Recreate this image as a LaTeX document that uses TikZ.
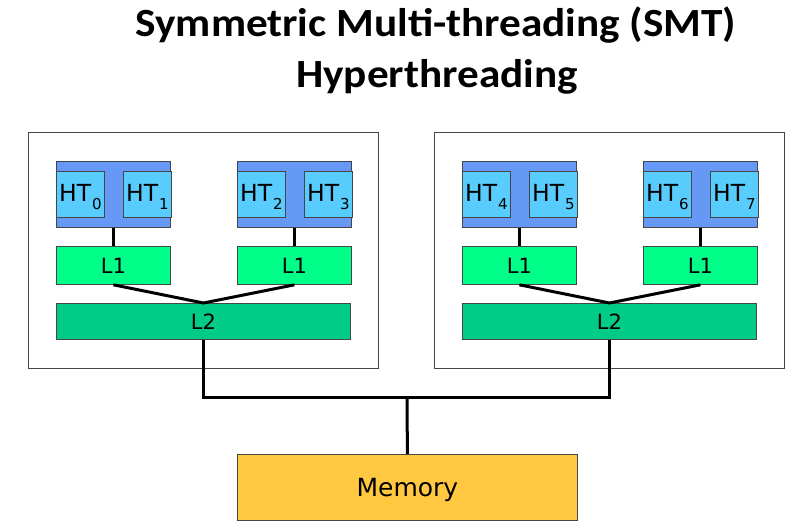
\documentclass[tikz,border=0pt]{standalone}
\usepackage{fontspec}
\setmainfont{DejaVu Sans}
\newfontfamily\titlefont[FakeStretch=1.08]{Carlito}
\newcommand\htlab[1]{HT\hspace{1pt}\raisebox{-8pt}{\fontsize{15}{15}\selectfont #1}}
\definecolor{coreblue}{RGB}{102,153,245}
\definecolor{htblue}{RGB}{88,204,252}
\definecolor{lone}{RGB}{0,255,136}
\definecolor{ltwo}{RGB}{0,204,136}
\definecolor{memcol}{RGB}{255,200,64}
\definecolor{edge}{RGB}{70,70,70}
\tikzset{
  box/.style={draw=edge, line width=0.8pt, rectangle, inner sep=0pt, anchor=north west},
  outerbox/.style={box, fill=white, draw=edge},
  corebox/.style={box, fill=coreblue, minimum width=114pt, minimum height=66pt},
  htbox/.style={box, fill=htblue, minimum width=48pt, minimum height=46pt, text height=24pt, text depth=10pt, font=\fontsize{23.5}{23.5}\selectfont},
  lonebox/.style={box, fill=lone, minimum width=114pt, minimum height=38pt, font=\fontsize{21}{21}\selectfont},
  ltwobox/.style={box, fill=ltwo, minimum width=294pt, minimum height=36pt, font=\fontsize{21}{21}\selectfont},
  membox/.style={box, fill=memcol, minimum width=340pt, minimum height=66pt, text depth=0pt, font=\fontsize{25}{25}\selectfont},
  conn/.style={draw=black, line width=3pt},
  titletext/.style={font=\titlefont\bfseries\fontsize{40}{40}\selectfont, inner sep=0pt, anchor=base}
}
\begin{document}
\begin{tikzpicture}[x=1pt,y=-1pt]
\useasboundingbox (0,0) rectangle (786,521);
\node[titletext] (t1) at (436,37) {Symmetric Multi-threading (SMT)};
\node[titletext] (t2) at (437,88) {Hyperthreading};
\foreach \k in {0,1}{
  \pgfmathsetmacro\dx{406*\k}
  \node[outerbox, minimum width=350pt, minimum height=236pt] (out\k) at (28+\dx,132) {};
  \foreach \j in {0,1}{
    \pgfmathsetmacro\cx{56+\dx+181*\j}
    \pgfmathtruncatemacro\ta{4*\k+2*\j}
    \pgfmathtruncatemacro\tb{4*\k+2*\j+1}
    \node[corebox] (core\k\j) at (\cx,161) {};
    \node[htbox] (ht\k\j a) at (\cx,171) {\htlab{\ta}};
    \node[htbox] (ht\k\j b) at (\cx+67,171) {\htlab{\tb}};
    \node[lonebox] (lone\k\j) at (\cx,246) {L1};
    \draw[conn] (core\k\j.south) -- (lone\k\j.north);
  }
  \node[ltwobox] (ltwo\k) at (56+\dx,303) {L2};
  \draw[conn] (lone\k0.south) -- (ltwo\k.north) -- (lone\k1.south);
}
\coordinate (bus) at (407,397);
\node[membox] (mem) at (237,454) {Memory};
\draw[conn] (ltwo0.south) |- (bus) -| (ltwo1.south);
\draw[conn] (bus) -- (mem.north);
\end{tikzpicture}
\end{document}
